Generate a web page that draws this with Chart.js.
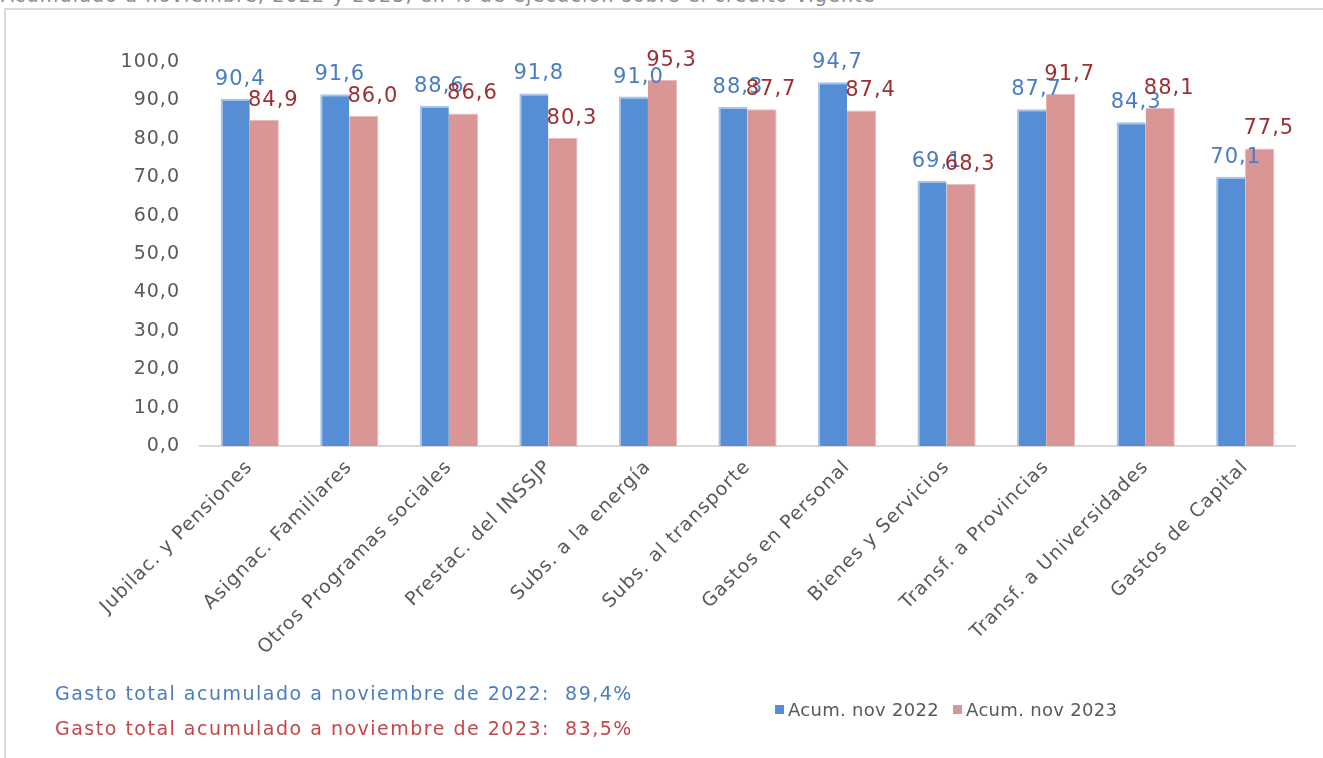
<!DOCTYPE html>
<html><head><meta charset="utf-8">
<script src="https://cdn.jsdelivr.net/npm/chart.js@4.4.0/dist/chart.umd.min.js"></script>
<style>
html,body{margin:0;padding:0;background:#fff;width:1323px;height:758px;overflow:hidden;font-family:"DejaVu Sans",sans-serif;}
#wrap{position:absolute;left:0;top:0;width:1323px;height:758px;}
#frame{position:absolute;left:4px;top:8px;width:1330px;height:760px;border-top:2px solid #d9d9d9;border-left:2px solid #d9d9d9;}
#sub{position:absolute;left:1px;top:-16px;font-size:19px;color:#8c8c8c;white-space:nowrap;letter-spacing:1.2px;}
canvas{position:absolute;left:0;top:0;}
.tot{position:absolute;left:55px;font-size:19px;white-space:pre;letter-spacing:1.5px;}
#legend{position:absolute;left:775px;top:699px;font-size:18px;color:#595959;white-space:nowrap;letter-spacing:0.3px;}
#legend span.box{display:inline-block;width:9px;height:9px;margin-right:4px;vertical-align:middle;position:relative;top:-2px;}
#legend span.item{margin-right:14px;}
</style></head>
<body>
<div id="wrap">
<div id="sub">Acumulado a noviembre, 2022 y 2023, en % de ejecución sobre el crédito vigente</div>
<div id="frame"></div>
<canvas id="c" width="1323" height="758"></canvas>
<div class="tot" id="t1" style="top:682px;color:#4a7cc3;"></div>
<div class="tot" id="t2" style="top:717px;color:#c4454a;"></div>
<div id="legend"></div>
</div>
<script>
const categories = ["Jubilac. y Pensiones","Asignac. Familiares","Otros Programas sociales","Prestac. del INSSJP","Subs. a la energía","Subs. al transporte","Gastos en Personal","Bienes y Servicios","Transf. a Provincias","Transf. a Universidades","Gastos de Capital"];
const acum2022 = [90.4,91.6,88.6,91.8,91.0,88.3,94.7,69.1,87.7,84.3,70.1];
const acum2023 = [84.9,86.0,86.6,80.3,95.3,87.7,87.4,68.3,91.7,88.1,77.5];
const seriesNames = ["Acum. nov 2022","Acum. nov 2023"];
const totalLines = ["Gasto total acumulado a noviembre de 2022:  89,4%","Gasto total acumulado a noviembre de 2023:  83,5%"];

const fmt = v => v.toFixed(1).replace('.', ',');
const barColors = ["#558ed5","#d99694"];
const labelColors = ["#4a7cc3","#9b2f33"];
const FONT = '"DejaVu Sans", sans-serif';

document.getElementById('t1').textContent = totalLines[0];
document.getElementById('t2').textContent = totalLines[1];
document.getElementById('legend').innerHTML = seriesNames.map((n,i)=>
 `<span class="item"><span class="box" style="background:${barColors[i]};"></span>${n}</span>`).join('');

const spacingPlugin = {
  id:'spacing',
  beforeLayout(chart){ chart.ctx.letterSpacing = '1px'; },
  beforeDraw(chart){ chart.ctx.letterSpacing = '1px'; }
};

const labelPlugin = {
  id:'vlabels',
  afterDatasetsDraw(chart){
    const ctx = chart.ctx;
    ctx.save();
    ctx.font = '21px ' + FONT;
    ctx.letterSpacing = '1px';
    ctx.textAlign = 'center';
    ctx.textBaseline = 'alphabetic';
    chart.data.datasets.forEach((ds,di)=>{
      const meta = chart.getDatasetMeta(di);
      meta.data.forEach((bar,i)=>{
        ctx.fillStyle = labelColors[di];
        const off = di===0 ? 5 : 9;
        ctx.fillText(fmt(ds.data[i]), bar.x + off, bar.y - 14);
      });
    });
    ctx.restore();
  }
};

new Chart(document.getElementById('c'), {
  type:'bar',
  data:{
    labels: categories,
    datasets:[
      {label:seriesNames[0], data:acum2022, backgroundColor:barColors[0], borderColor:'#a9c3e8', borderWidth:{top:2,left:2,right:0,bottom:0}, borderSkipped:false},
      {label:seriesNames[1], data:acum2023, backgroundColor:barColors[1], borderColor:'#e6bcbb', borderWidth:{top:1,left:0,right:1,bottom:0}, borderSkipped:false}
    ]
  },
  options:{
    responsive:false,
    animation:false,
    devicePixelRatio:1,
    layout:{padding:{left:0,right:28,top:62,bottom:0}},
    categoryPercentage:0.585,
    barPercentage:1.0,
    plugins:{legend:{display:false}, tooltip:{enabled:false}},
    scales:{
      x:{
        grid:{display:false, drawTicks:false},
        border:{display:true, color:'#d9d9d9', width:2},
        ticks:{color:'#595959', font:{family:FONT, size:19}, maxRotation:45, minRotation:45, padding:10, autoSkip:false},
        afterFit(s){ s.height = 312; }
      },
      y:{
        min:0, max:100,
        grid:{display:false, drawTicks:false},
        border:{display:false},
        ticks:{stepSize:10, color:'#595959', font:{family:FONT, size:19}, padding:20, callback:v=>fmt(v)},
        afterFit(s){ s.width = 200; }
      }
    }
  },
  plugins:[spacingPlugin, labelPlugin]
});
</script>
</body></html>
